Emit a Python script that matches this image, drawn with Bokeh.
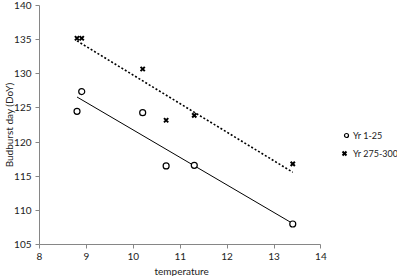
import numpy as np
from bokeh.plotting import figure
from bokeh.models import Legend, LegendItem, Range1d, FixedTicker, Title
from bokeh.embed import file_html
from bokeh.resources import INLINE

temp_a = [8.8, 8.9, 10.2, 10.7, 11.3, 13.4]
doy_a = [124.5, 127.4, 124.3, 116.5, 116.6, 108.0]
temp_b = [8.8, 8.9, 10.2, 10.7, 11.3, 13.4]
doy_b = [135.2, 135.2, 130.7, 123.2, 123.9, 116.8]
label_a = "Yr 1-25"
label_b = "Yr 275-300"
x_ticks = [8, 9, 10, 11, 12, 13, 14]
y_ticks = [105, 110, 115, 120, 125, 130, 135, 140]

FONT = "Lato"
AX = "#868686"
LEFT = 39

p = figure(width=397, height=276, output_backend="svg", toolbar_location=None,
           x_range=Range1d(8, 8 + (397 - LEFT) / 46.9), y_range=Range1d(105, 140),
           min_border_left=LEFT, min_border_right=0, min_border_top=5, min_border_bottom=20)
p.outline_line_color = None
p.xgrid.visible = False
p.ygrid.visible = False
p.background_fill_color = "white"
p.border_fill_color = "white"

for ax in (p.xaxis[0], p.yaxis[0]):
    ax.axis_line_color = AX
    ax.major_tick_line_color = AX
    ax.minor_tick_line_color = None
    ax.major_tick_in = 0
    ax.major_tick_out = 4
    ax.major_label_text_font = FONT
    ax.major_label_text_font_size = "10px"
    ax.major_label_text_color = "#222222"
    ax.axis_label_text_font = FONT
    ax.axis_label_text_font_size = "10px"
    ax.axis_label_text_font_style = "normal"
    ax.axis_label_text_color = "#222222"

p.xaxis.bounds = (8, 14)
p.xaxis.ticker = FixedTicker(ticks=x_ticks)
p.yaxis.ticker = FixedTicker(ticks=y_ticks)
p.yaxis.axis_label = "Budburst day (DoY)"
p.xaxis.major_label_standoff = 4
p.yaxis.major_label_standoff = 4
p.yaxis.axis_label_standoff = -4

p.add_layout(Title(text="temperature", align="left", offset=154 - LEFT, standoff=0,
                   text_font=FONT, text_font_size="10px", text_font_style="normal",
                   text_color="#222222"), "below")

# trend lines (least squares fits)
ka, ba = np.polyfit(temp_a, doy_a, 1)
kb, bb = np.polyfit(temp_b, doy_b, 1)
xa = [min(temp_a), max(temp_a)]
xb = [min(temp_b), max(temp_b)]
p.line(xa, [ka * v + ba for v in xa], line_color="black", line_width=1)
p.line(xb, [kb * v + bb for v in xb], line_color="black", line_width=1.6, line_dash="2 2")

ra = p.scatter(temp_a, doy_a, marker="circle", size=6, fill_color="white",
               line_color="black", line_width=1.2)
rb = p.scatter(temp_b, doy_b, marker="x", size=6, line_color="black", line_width=2)

common = dict(border_line_color=None, background_fill_alpha=0, label_text_font=FONT,
              label_text_font_size="9px", label_text_color="#222222",
              label_standoff=2, padding=0, margin=0)
leg_a = Legend(items=[LegendItem(label=label_a, renderers=[ra])],
               location=(341 - LEFT, 242 - 140), glyph_width=10, glyph_height=14, **common)
leg_b = Legend(items=[LegendItem(label=label_b, renderers=[rb])],
               location=(337 - LEFT, 242 - 159), glyph_width=14, glyph_height=16, **common)
p.add_layout(leg_a, "center")
p.add_layout(leg_b, "center")

open("out.html", "w").write(file_html(p, INLINE))
